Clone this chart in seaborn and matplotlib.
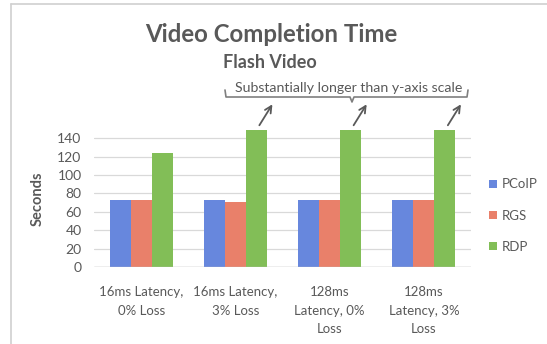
import matplotlib
matplotlib.use("Agg")
import matplotlib.pyplot as plt
from matplotlib.lines import Line2D
import seaborn as sns
import pandas as pd

# Data
categories = ["16ms Latency,\n0% Loss", "16ms Latency,\n3% Loss",
              "128ms\nLatency, 0%\nLoss", "128ms\nLatency, 3%\nLoss"]
protocols = ["PCoIP", "RGS", "RDP"]
pcoip = [72.5, 72.5, 72.5, 72.5]
rgs = [72.5, 71, 72.5, 72.5]
rdp = [124, 149, 149, 149]          # last three run past the top of the scale
y_ticks = [0, 20, 40, 60, 80, 100, 120, 140]
y_max = 149
palette = ["#6787DD", "#E9806A", "#82BE57"]

sns.set_theme(style="white")
plt.rcParams["font.family"] = ["Lato", "DejaVu Sans"]
text_color = "#595959"

df = pd.DataFrame({
    "Condition": categories * 3,
    "Protocol": [p for p in protocols for _ in categories],
    "Seconds": pcoip + rgs + rdp,
})

W, H = 547, 344
fig = plt.figure(figsize=(W / 100, H / 100), dpi=100)
fig.patch.set_facecolor("white")


def fx(x):
    return x / W


def fy(y):
    return 1 - y / H


ax = fig.add_axes([fx(94), fy(267), fx(471) - fx(94), fy(130) - fy(267)])
group_width = 0.67
sns.barplot(data=df, x="Condition", y="Seconds", hue="Protocol",
            palette=palette, width=group_width, saturation=1,
            ax=ax, linewidth=0)

ax.set_ylim(0, y_max)
ax.set_yticks(y_ticks)
ax.set_yticklabels([str(t) for t in y_ticks])
ax.yaxis.grid(True, color="#d9d9d9", linewidth=0.9)
ax.set_axisbelow(True)
ax.axhline(0, color="#bfbfbf", linewidth=1.0, zorder=3)
for s in ax.spines.values():
    s.set_visible(False)
ax.tick_params(axis="y", length=0, pad=9, labelsize=10, labelcolor=text_color)
ax.tick_params(axis="x", length=0, pad=14, labelsize=9.5, labelcolor=text_color)
for lab in ax.get_xticklabels():
    lab.set_linespacing(1.65)
ax.set_xlabel("")
ax.set_ylabel("Seconds", fontsize=10.5, fontweight="bold", color=text_color, labelpad=9)

sns.move_legend(ax, "center left", bbox_to_anchor=(fx(489), fy(215.5)),
                bbox_transform=fig.transFigure, title=None, frameon=False,
                fontsize=9.5, labelcolor=text_color, handlelength=0.6,
                handleheight=0.6, handletextpad=0.4, labelspacing=1.45,
                borderpad=0, borderaxespad=0)

# Titles
fig.text(fx(271), fy(34), "Video Completion Time", ha="center", va="center",
         fontsize=17.3, fontweight="bold", color=text_color)
fig.text(fx(270), fy(62), "Flash Video", ha="center", va="center",
         fontsize=13, fontweight="bold", color=text_color)
fig.text(fx(349), fy(88), "Substantially longer than y-axis scale",
         ha="center", va="center", fontsize=10.2, color=text_color)

# Brace under the note
bx = [225, 226, 350, 352, 354, 467, 468]
by = [90, 97, 97, 102, 97, 97, 90]
fig.add_artist(Line2D([fx(v) for v in bx], [fy(v) for v in by],
                      color="#7f7f7f", linewidth=1.2))

# Arrows from the clipped bars up to the note
bar_w = group_width / len(protocols)
for i, v in enumerate(rdp):
    if v >= y_max:
        ax.annotate("", xy=(i + bar_w, y_max), xycoords="data",
                    xytext=(11.5, 18.5), textcoords="offset points",
                    arrowprops=dict(arrowstyle="<-", color=text_color,
                                    lw=1.3, shrinkA=0, shrinkB=4),
                    annotation_clip=False)

# Chart frame (left and top edges)
fig.add_artist(Line2D([fx(11), fx(11)], [fy(4), 0], color="#d0d0d0", linewidth=1.2))
fig.add_artist(Line2D([fx(11), 1], [fy(4), fy(4)], color="#d0d0d0", linewidth=1.2))

fig.savefig("out.png", dpi=100, facecolor="white")
